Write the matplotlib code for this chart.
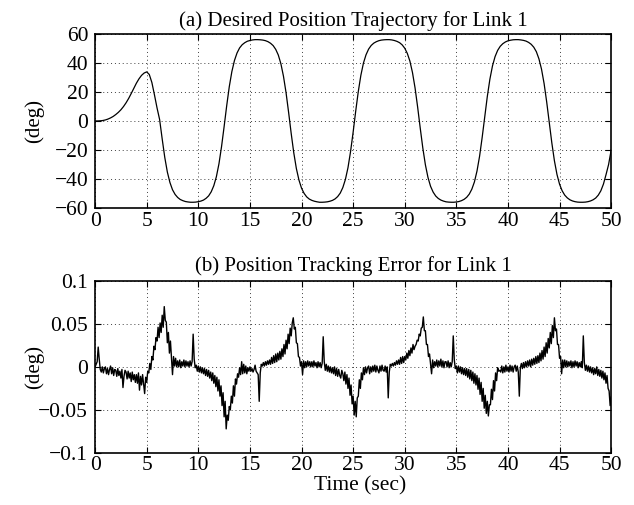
import matplotlib
matplotlib.use("Agg")
import matplotlib.pyplot as plt
import numpy as np

# sample intervals (sec)
dt_pos = 0.25
dt_err = 0.1

# (a) desired position of link 1 (deg), one value every 0.25 s from t = 0
pos_deg = [
    0.0, 0.0, 0.1, 0.3, 0.7, 1.3, 2.1, 3.1,
    4.4, 5.9, 7.7, 9.9, 12.5, 15.5, 18.9, 22.5,
    26.0, 29.0, 31.4, 33.0, 33.8, 32.0, 26.5, 18.0,
    9.0, 1.0, -12.4, -25.1, -35.2, -42.4, -47.4, -50.6,
    -52.7, -54.1, -54.9, -55.5, -55.8, -56.0, -56.0, -55.9,
    -55.6, -55.2, -54.5, -53.3, -51.6, -48.8, -44.6, -38.4,
    -29.5, -17.7, -3.9, 10.5, 23.6, 34.0, 41.6, 46.8,
    50.3, 52.5, 53.9, 54.9, 55.4, 55.8, 56.0, 56.0,
    55.9, 55.7, 55.3, 54.6, 53.5, 51.9, 49.3, 45.4,
    39.4, 30.8, 19.5, 5.8, -8.7, -22.0, -32.8, -40.7,
    -46.3, -49.9, -52.3, -53.8, -54.7, -55.3, -55.7, -56.0,
    -56.0, -55.9, -55.7, -55.3, -54.7, -53.7, -52.1, -49.7,
    -45.9, -40.3, -32.2, -21.1, -7.7, 6.8, 20.3, 31.5,
    39.9, 45.6, 49.5, 52.0, 53.6, 54.6, 55.3, 55.7,
    55.9, 56.0, 56.0, 55.8, 55.4, 54.8, 53.9, 52.4,
    50.1, 46.5, 41.2, 33.3, 22.7, 9.5, -4.9, -18.6,
    -30.2, -38.9, -45.0, -49.0, -51.7, -53.4, -54.5, -55.2,
    -55.7, -55.9, -56.0, -56.0, -55.8, -55.5, -54.9, -54.0,
    -52.6, -50.4, -47.0, -42.0, -34.5, -24.3, -11.4, 3.0,
    16.9, 28.8, 37.9, 44.3, 48.6, 51.4, 53.2, 54.4,
    55.2, 55.6, 55.9, 56.0, 56.0, 55.8, 55.5, 55.0,
    54.1, 52.8, 50.8, 47.7, 42.8, 35.7, 25.8, 13.2,
    -1.0, -15.1, -27.4, -36.9, -43.6, -48.1, -51.1, -53.0,
    -54.3, -55.1, -55.6, -55.9, -56.0, -56.0, -55.9, -55.6,
    -55.1, -54.3, -53.1, -51.1, -48.1, -43.5, -37.0, -30.0,
    -20.0,
]

# (b) tracking error of link 1, in 1/1000 deg, one value every 0.1 s from t = 0
err_milli = [
    0, 3, 6, 23, 9, -3, -6, 0, -7, -2,
    0, -8, -2, -9, -3, 1, -8, -1, -10, -3,
    -4, -11, -2, -10, -5, -13, -3, -24, -11, -4,
    -6, -14, -5, -13, -7, -17, -6, -15, -9, -18,
    -9, -19, -7, -27, -11, -21, -9, -20, -31, -12,
    -18, -5, -7, 4, -3, 12, 8, 24, 20, 34,
    30, 46, 34, 51, 40, 60, 46, 70, 54, 52,
    28, 40, 16, 30, 10, -9, 12, 1, 10, 0,
    7, 0, 8, -1, 6, 1, 8, 0, 7, 1,
    6, 0, 7, 1, 6, 38, 9, -1, 2, -5,
    1, -6, 0, -7, -1, -8, -2, -10, -3, -11,
    -4, -13, -6, -16, -7, -19, -10, -23, -12, -28,
    -15, -34, -22, -45, -30, -58, -40, -72, -56, -62,
    -46, -50, -34, -42, -22, -34, -14, -20, -8, -12,
    -1, -9, 6, -8, 3, -7, 1, -8, -1, -5,
    0, -5, -2, -6, -3, 2, -5, -7, -9, -40,
    -7, 3, 1, 5, 1, 6, 2, 7, 3, 8,
    3, 11, 4, 13, 5, 15, 6, 16, 8, 18,
    9, 21, 12, 26, 15, 31, 21, 38, 27, 45,
    36, 51, 57, 44, 46, 28, 27, 12, 11, 1,
    6, -9, 7, -1, 6, 0, 7, 1, 6, 0,
    6, 0, 7, 1, 5, -1, 6, 0, 5, -1,
    4, 35, 6, -4, 3, -5, 1, -6, 0, -7,
    -1, -8, 0, -10, -2, -11, -3, -10, -13, -4,
    -8, -16, -6, -20, -9, -25, -13, -33, -21, -43,
    -34, -56, -40, -58, -36, -34, -15, -25, -7, -15,
    -1, -9, 0, -7, -1, 1, -8, 0, -6, 1,
    -5, 2, -6, 1, -4, -7, 1, -5, 2, -4,
    -5, 1, -6, 0, -36, -6, 3, 1, 4, 1,
    5, 2, 7, 3, 8, 3, 11, 4, 12, 5,
    12, 8, 16, 10, 19, 13, 22, 16, 26, 20,
    24, 26, 31, 30, 38, 36, 45, 46, 58, 42,
    42, 26, 26, 12, 15, 4, -8, 8, -1, 6,
    1, 8, 0, 7, 1, 9, 0, 7, -1, 6,
    6, 0, 7, -1, 5, 0, 6, 36, 8, -2,
    1, -7, 1, -6, 0, -8, -1, -9, -2, -10,
    -2, -12, -3, -14, -4, -16, -6, -19, -8, -21,
    -10, -26, -13, -32, -18, -40, -25, -48, -33, -54,
    -40, -57, -44, -44, -26, -38, -16, -28, -7, -16,
    -1, -5, -4, -6, 1, -7, 0, -6, 2, -5,
    0, -6, 2, -5, 1, -6, 0, 2, -5, 1,
    -6, -34, -1, 4, -2, 5, -1, 6, 0, 7,
    1, 8, 0, 9, 2, 10, 3, 12, 4, 13,
    5, 16, 7, 19, 9, 23, 12, 28, 16, 33,
    22, 40, 27, 48, 34, 57, 42, 44, 26, 26,
    10, 12, -8, 8, -1, 8, 0, 7, 0, 6,
    1, 7, -1, 6, 0, 7, 1, 6, -1, 5,
    0, 6, -1, 36, 5, -4, 2, -5, 1, -6,
    0, -7, -1, -9, -2, -8, 0, -10, -3, -11,
    -4, -13, -5, -15, -7, -19, -10, -25, -28, -45,
    -35,
]

pos_yticks = [-60, -40, -20, 0, 20, 40, 60]
err_yticks = [-0.1, -0.05, 0, 0.05, 0.1]
err_yticklabels = ["\u22120.1", "\u22120.05", "0", "0.05", "0.1"]
time_ticks = [0, 5, 10, 15, 20, 25, 30, 35, 40, 45, 50]

assert len(err_milli) == 501, len(err_milli)
assert len(pos_deg) == 201, len(pos_deg)

t_pos = np.arange(len(pos_deg)) * dt_pos
t_err = np.arange(len(err_milli)) * dt_err
err_deg = np.array(err_milli) / 1000.0

plt.rcParams["font.family"] = ["Liberation Serif", "DejaVu Serif"]
plt.rcParams["font.size"] = 15
plt.rcParams["xtick.labelsize"] = 15.5
plt.rcParams["ytick.labelsize"] = 15.5
plt.rcParams["xtick.direction"] = "in"
plt.rcParams["ytick.direction"] = "in"
plt.rcParams["xtick.top"] = True
plt.rcParams["ytick.right"] = True
plt.rcParams["xtick.major.size"] = 4
plt.rcParams["ytick.major.size"] = 4
plt.rcParams["xtick.major.pad"] = 2.5
plt.rcParams["ytick.major.pad"] = 5
plt.rcParams["axes.linewidth"] = 1.2

fig = plt.figure(figsize=(6.34, 5.05), dpi=100)
ax1 = fig.add_axes([0.150, 0.588, 0.814, 0.345])
ax2 = fig.add_axes([0.150, 0.103, 0.814, 0.341])


def style_axes(ax):
    ax.grid(True, linestyle=(0, (1, 3)), color="0.25", linewidth=0.7)
    ax.set_xlim(0, 50)
    ax.set_xticks(time_ticks)
    ax.set_ylabel("(deg)", fontsize=15)
    ax.yaxis.set_label_coords(-0.098, 0.5)


ax1.plot(t_pos, pos_deg, color="black", linewidth=0.9)
style_axes(ax1)
ax1.set_ylim(-60, 60)
ax1.set_yticks(pos_yticks)
ax1.set_title("(a) Desired Position Trajectory for Link 1", fontsize=15, pad=6)

ax2.plot(t_err, err_deg, color="black", linewidth=1.0)
style_axes(ax2)
ax2.set_ylim(-0.1, 0.1)
ax2.set_yticks(err_yticks)
ax2.set_yticklabels(err_yticklabels)
ax2.set_title("(b) Position Tracking Error for Link 1", fontsize=15, pad=7)
ax2.set_xlabel("Time (sec)", fontsize=15.5, labelpad=0)
ax2.xaxis.set_label_coords(0.513, -0.135)

fig.savefig("out.png", dpi=100)
plt.close(fig)
